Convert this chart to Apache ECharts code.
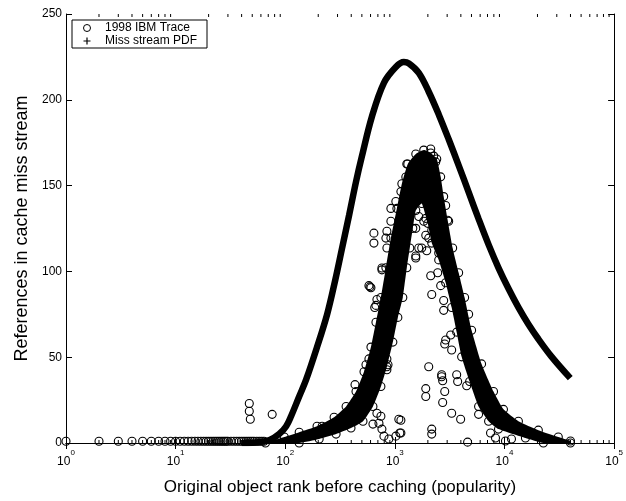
<!DOCTYPE html>
<html>
<head>
<meta charset="utf-8">
<script src="https://cdn.jsdelivr.net/npm/echarts@6/dist/echarts.min.js"></script>
<style>
  html, body { margin: 0; padding: 0; background: #fff; }
  #chart { width: 626px; height: 501px; }
</style>
</head>
<body>
<div id="chart"></div>
<script>
// Miss stream PDF: expected references per object rank
const pdfRanks  = [40, 50, 58, 72, 88, 102, 113, 134, 155, 195, 241, 285, 330, 382, 442, 501, 618, 795, 1021, 1208,
                   1340, 1652, 2037, 2512, 3097, 3819, 4710, 5805, 7161, 8817, 10870, 13400, 16530, 20370, 26740, 39810];
const pdfValues = [0, 0.2, 0.6, 1.7, 5.2, 9.8, 15.6, 27.1, 36.9, 55.9, 75, 94.6, 113.6, 132.6, 152.2, 167.2, 190.3, 209.9, 219.1, 222,
                   221.2, 215.7, 204.7, 191.5, 177, 161.8, 146.2, 130.6, 115.6, 102.1, 90, 79, 69.2, 60.6, 50.5, 37.8];

// 1998 IBM trace: outline of the dense body of trace points (rank, references)
const bandRanks  = [66, 98, 134, 195, 279, 359, 442, 523, 605, 672, 746, 828, 920, 1043, 1158, 1312, 1552, 1835,
                    2124, 2411, 2618, 2788, 3033, 3367, 3819, 4328, 5012, 6180, 7943, 9790, 13400, 20370, 30970, 40000, 40000,
                    22630, 15530, 8817, 7161, 5805, 4808, 4065, 3664, 3298, 2908, 2512, 2170, 1995, 1758,
                    1552, 1458, 1368, 1285, 1182, 1065, 959, 846, 746, 631, 512, 398, 291, 204, 134];
const bandValues = [0, 3.5, 6.3, 9.8, 15, 21.3, 30, 41.5, 55.9, 70.4, 84.8, 102.1, 119.4, 136.7, 151.1, 162.6, 168.4, 170.7,
                    169, 165.5, 155.1, 143.6, 129.8, 113.6, 99.2, 84.8, 65.7, 46.1, 30, 19.6, 12.7, 7.5, 3.5, 1.2, 0,
                    0, 2.9, 8.1, 12.7, 21.3, 35.8, 50.2, 64.6, 79, 93.4, 106.7, 116.5, 128, 139.6,
                    135.5, 125.1, 113.6, 102.1, 84.8, 73.2, 58.8, 44.4, 32.9, 21.3, 12.7, 8.7, 5.2, 2.3, 0];

// 1998 IBM trace: most popular objects, one reference each
const headRanks  = [1, 2, 3, 4, 5, 6, 7, 8, 9, 10, 11, 12, 13, 14, 15, 16, 17, 18, 19, 20, 21, 22, 23, 24, 25, 26, 27, 28, 29, 30, 32, 34, 36, 38, 40, 42, 44, 46, 48, 50, 52, 55, 58, 61, 64];
const headValues = [1, 1, 1, 1, 1, 1, 1, 1, 1, 1, 1, 1, 1, 1, 1, 1, 1, 1, 1, 1, 1, 1, 1, 1, 1, 1, 1, 1, 1, 1, 1, 1, 1, 1, 1, 1, 1, 1, 1, 1, 1, 1, 1, 1, 1];

// 1998 IBM trace: scattered points away from the dense body
const outlierRanks  = [47, 47, 48, 76, 762, 593, 686, 655, 1021, 846, 866, 846, 545, 580, 433,
                       686, 746, 716, 631, 762, 795, 882, 1021, 1110, 1135, 217, 323, 359,
                       1552, 2124, 2170, 2460, 2618, 2788, 2788, 3230, 2851, 3298, 2037, 2673, 2730, 1914, 1914, 2851, 2730, 1135, 3298, 3981, 2170, 2170, 4610, 3664, 3740, 4520, 5805, 7460, 8281, 10210, 11580,
                       2124, 2263, 1914, 1758, 2170, 2908, 4710, 2673,
                       644, 644, 828, 846, 580, 605, 672, 762, 920, 920, 1021, 846, 1087, 1285, 1259,
                       1652, 1835, 1552, 1914, 1652, 2037, 1552, 2512, 1954, 1135, 2908, 3097, 2360];
const outlierValues = [23, 18.5, 13.8, 16.7, 100.9, 91, 83.6, 79, 80.7, 49, 45.6, 42.7, 45.6, 49, 34,
                       17.3, 15.6, 11.5, 11, 8.1, 4, 2.3, 4, 5.8, 13.3, 9.8, 13.8, 14.4,
                       107.8, 97.5, 86.5, 99.2, 91.7, 83, 77.3, 62.9, 57.7, 54.2, 44.4, 39.8, 36.3, 31.7, 27.1, 30, 23.6, 5.8, 17.3, 13.8, 8.1, 5.2, 0.5, 39.8, 35.8, 33.4, 16.7, 5.8, 2.9, 1.2, 2.3,
                       171.3, 167.2, 130.9, 113.6, 124, 60, 75, 38.6,
                       122.3, 116.5, 119.4, 123.4, 91.7, 90.5, 80.2, 102, 136.7, 129.2, 140.7, 113.6, 13.8, 162.6, 155,
                       132, 129.2, 125.1, 121.1, 113.6, 119.4, 109, 110.7, 112, 146.5, 138.4, 129.2, 163.8];

// y-axis ticks
const yMax = 250;
const yStep = 50;

const FONT = '"Liberation Sans", Arial, Helvetica, sans-serif';

const pairs = (xs, ys) => xs.map((x, i) => [x, ys[i]]);

// minor tick positions on the log axis: 2..9 within each decade
const minorTicks = [];
for (let e = 0; e < 5; e++) {
  for (let m = 2; m <= 9; m++) minorTicks.push([m * Math.pow(10, e), 0]);
}

const traceName = '1998 IBM Trace';
const pdfName = 'Miss stream PDF';

const tracePoints = pairs(headRanks, headValues)
  .concat(pairs(outlierRanks, outlierValues))
  .concat(pairs(bandRanks, bandValues));

const chart = echarts.init(document.getElementById('chart'), null, { renderer: 'canvas' });

const logLabel = {
  show: true,
  margin: 6,
  formatter: v => '{b|10}{s|' + Math.round(Math.log10(v)) + '}',
  rich: {
    b: { fontFamily: FONT, fontSize: 12, color: '#000', lineHeight: 19, verticalAlign: 'bottom' },
    s: { fontFamily: FONT, fontSize: 8, color: '#000', lineHeight: 10, verticalAlign: 'top' }
  }
};

chart.setOption({
  animation: false,
  backgroundColor: '#fff',
  grid: { left: 66, right: 10, top: 14, bottom: 54 },
  legend: {
    orient: 'vertical',
    left: 72, top: 20,
    padding: [2, 10, 1, 9],
    itemGap: 1,
    itemWidth: 26, itemHeight: 7,
    borderColor: '#000', borderWidth: 1,
    backgroundColor: '#fff',
    textStyle: { fontFamily: FONT, fontSize: 12, color: '#000' },
    data: [
      { name: traceName, icon: 'circle', itemStyle: { color: '#fff', borderColor: '#000', borderWidth: 1 } },
      { name: pdfName, icon: 'path://M0,5L10,5M5,0L5,10', itemStyle: { color: 'none', borderColor: '#000', borderWidth: 1.2 } }
    ]
  },
  xAxis: [
    {
      type: 'log', logBase: 10, min: 1, max: 100000, interval: 1,
      name: 'Original object rank before caching (popularity)',
      nameLocation: 'middle', nameGap: 36,
      nameTextStyle: { fontFamily: FONT, fontSize: 17, color: '#000' },
      axisLine: { lineStyle: { color: '#000', width: 1 } },
      axisTick: { inside: true, length: 6, lineStyle: { color: '#000' } },
      axisLabel: logLabel,
      splitLine: { show: false }
    },
    {
      type: 'log', logBase: 10, min: 1, max: 100000, interval: 1, position: 'top',
      axisLine: { lineStyle: { color: '#000', width: 1 } },
      axisTick: { inside: true, length: 6, lineStyle: { color: '#000' } },
      axisLabel: { show: false },
      splitLine: { show: false }
    }
  ],
  yAxis: [
    {
      type: 'value', min: 0, max: yMax, interval: yStep,
      name: 'References in cache miss stream',
      nameLocation: 'middle', nameGap: 35,
      nameTextStyle: { fontFamily: FONT, fontSize: 18, color: '#000' },
      axisLine: { show: true, lineStyle: { color: '#000', width: 1 } },
      axisTick: { show: true, inside: true, length: 6, lineStyle: { color: '#000' } },
      axisLabel: { fontFamily: FONT, fontSize: 12, color: '#000', margin: 4 },
      splitLine: { show: false }
    },
    {
      type: 'value', min: 0, max: yMax, interval: yStep, position: 'right',
      axisLine: { show: true, lineStyle: { color: '#000', width: 1 } },
      axisTick: { show: true, inside: true, length: 6, lineStyle: { color: '#000' } },
      axisLabel: { show: false },
      splitLine: { show: false }
    }
  ],
  series: [
    {
      // dense body of the trace
      type: 'custom',
      name: traceName,
      xAxisIndex: 0, yAxisIndex: 0,
      silent: true,
      clip: true,
      z: 2,
      encode: { x: 0, y: 1 },
      data: [[bandRanks[0], bandValues[0]]],
      renderItem: (params, api) => {
        const pts = bandRanks.map((r, i) => api.coord([r, bandValues[i]]));
        return { type: 'polygon', shape: { points: pts, smooth: 0.15 }, style: { fill: '#000' } };
      }
    },
    {
      type: 'scatter',
      name: traceName,
      xAxisIndex: 0, yAxisIndex: 0,
      symbol: 'circle',
      symbolSize: 8,
      itemStyle: { color: 'rgba(255,255,255,0)', borderColor: '#000', borderWidth: 1.1, opacity: 1 },
      silent: true,
      z: 3,
      data: tracePoints
    },
    {
      type: 'line',
      name: pdfName,
      xAxisIndex: 0, yAxisIndex: 0,
      smooth: 0.35,
      showSymbol: false,
      symbol: 'none',
      lineStyle: { color: '#000', width: 6.5 },
      itemStyle: { color: '#000' },
      silent: true,
      z: 4,
      data: pairs(pdfRanks, pdfValues)
    },
    {
      // minor ticks of the log axis, bottom and top
      type: 'custom',
      xAxisIndex: 0, yAxisIndex: 0,
      silent: true,
      z: 5,
      encode: { x: 0, y: 1 },
      data: minorTicks,
      renderItem: (params, api) => {
        const x = api.coord([api.value(0), 0])[0];
        const cs = params.coordSys;
        const yb = cs.y + cs.height;
        return {
          type: 'group',
          children: [
            { type: 'line', shape: { x1: x, y1: yb, x2: x, y2: yb - 3 }, style: { stroke: '#000', lineWidth: 1 } },
            { type: 'line', shape: { x1: x, y1: cs.y, x2: x, y2: cs.y + 3 }, style: { stroke: '#000', lineWidth: 1 } }
          ]
        };
      }
    }
  ]
});
</script>
</body>
</html>
